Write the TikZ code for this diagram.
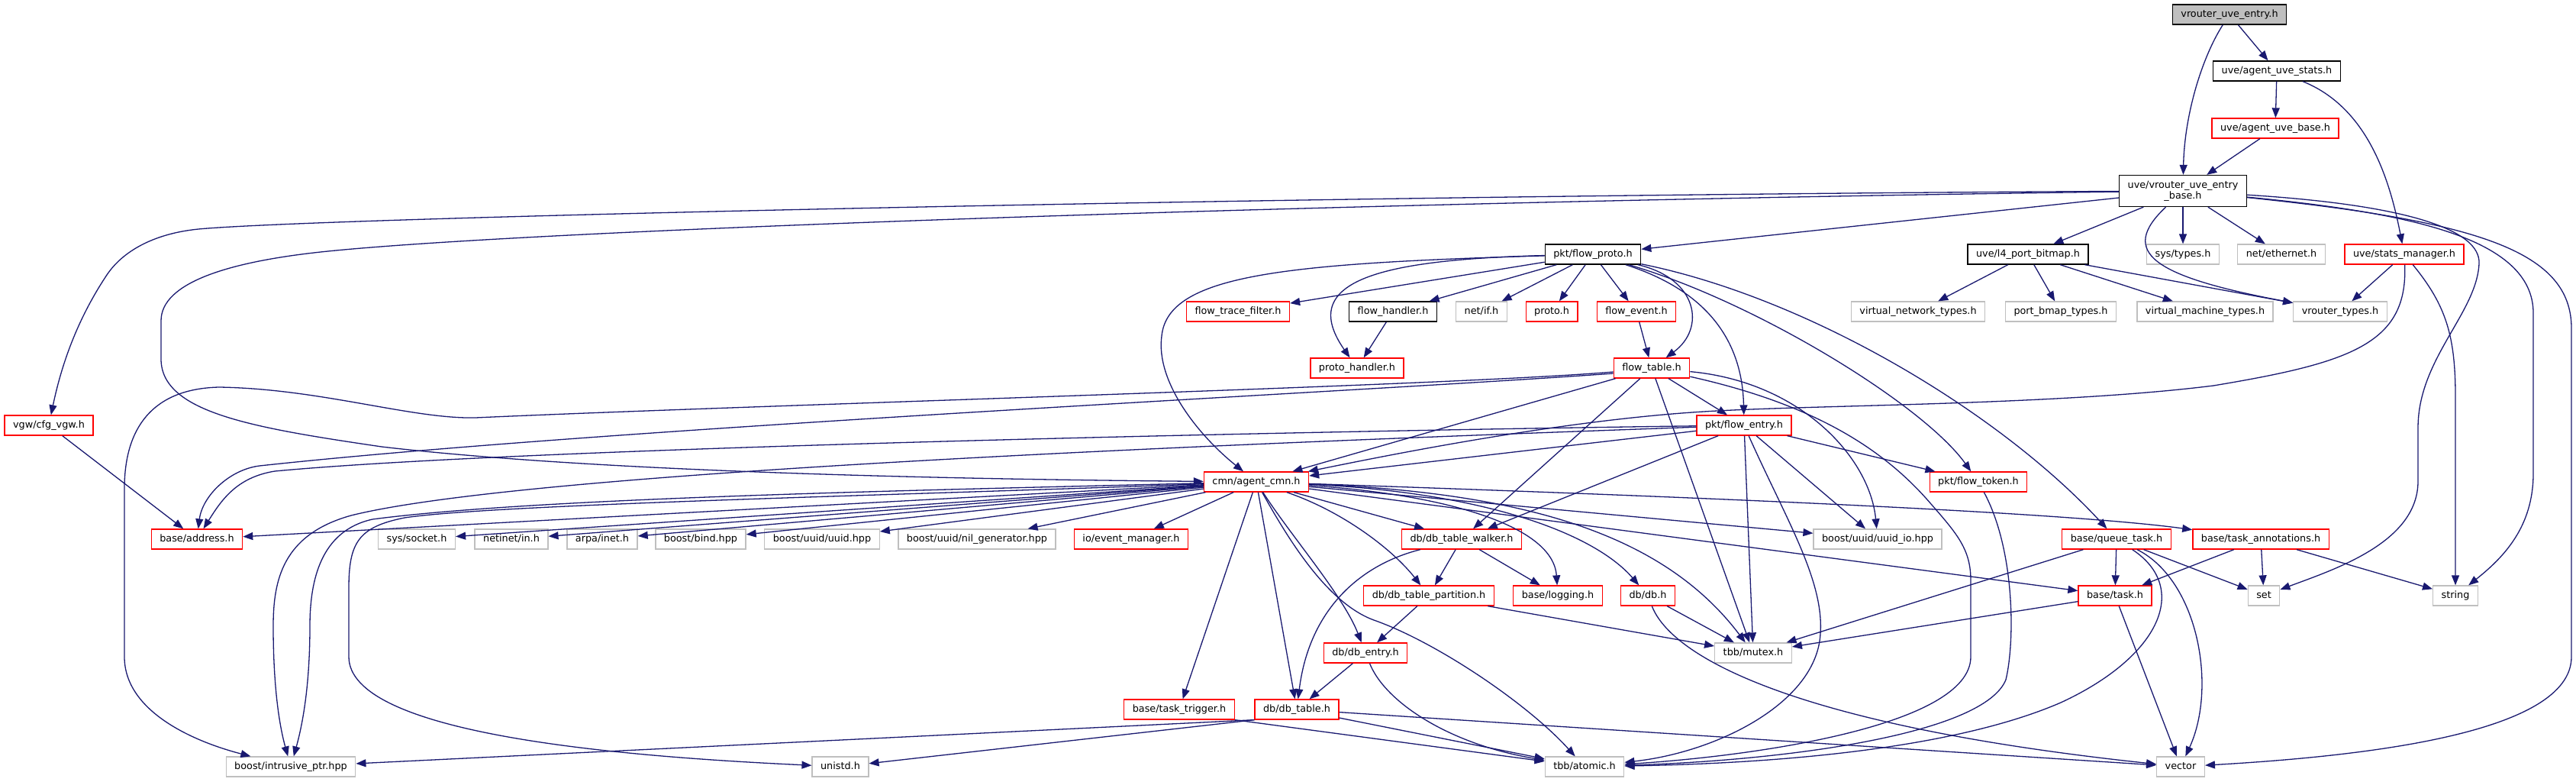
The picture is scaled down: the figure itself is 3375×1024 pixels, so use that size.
\documentclass[tikz,border=0pt]{standalone}
\usepackage{fontspec}
\setmainfont{DejaVu Sans}
\usetikzlibrary{arrows.meta}
\definecolor{edgec}{HTML}{191970}
\definecolor{grayb}{HTML}{BFBFBF}
\tikzset{
 base/.style={rectangle, draw, line width=1.3pt, inner xsep=11pt, inner ysep=0pt, font=\fontsize{12.8pt}{14pt}\selectfont, minimum height=26pt},
 tl/.style={text height=9.6pt, text depth=2.6pt},
 nblack/.style={base, tl, draw=black},
 ntop/.style={base, tl, draw=black, fill=grayb},
 nred/.style={base, tl, draw=red},
 ngray/.style={base, tl, draw=grayb},
 ed/.style={draw=edgec, line width=1.3pt, -{Triangle[length=13pt, width=10pt]}}
}
\begin{document}
\begin{tikzpicture}[x=1pt,y=-1pt]
\path[fill=white] (0,0) rectangle (3375,1024);
\useasboundingbox (0,0) rectangle (3375,1024);
% nodes
\node[ntop] (E) at (2921,19) {vrouter\_uve\_entry.h};
\node[nblack] (S) at (2983,93) {uve/agent\_uve\_stats.h};
\node[nred] (AB) at (2981,168) {uve/agent\_uve\_base.h};
\node[base, draw=black, minimum height=41pt, align=center] (B) at (2860,250) {uve/vrouter\_uve\_entry\\\_base.h};
\node[nblack] (FP) at (2087,333) {pkt/flow\_proto.h};
\node[nblack] (L4) at (2657,333) {uve/l4\_port\_bitmap.h};
\node[ngray] (ST) at (2860,333) {sys/types.h};
\node[ngray] (NE) at (2989,333) {net/ethernet.h};
\node[nred] (SM) at (3150,333) {uve/stats\_manager.h};
\node[nred] (FTF) at (1622,408) {flow\_trace\_filter.h};
\node[nblack] (FH) at (1825,408) {flow\_handler.h};
\node[ngray] (NIF) at (1941,408) {net/if.h};
\node[nred] (PR) at (2033,408) {proto.h};
\node[nred] (FEV) at (2144,408) {flow\_event.h};
\node[ngray] (VNT) at (2513,408) {virtual\_network\_types.h};
\node[ngray] (PBT) at (2700,408) {port\_bmap\_types.h};
\node[ngray] (VMT) at (2889,408) {virtual\_machine\_types.h};
\node[ngray] (VT) at (3066,408) {vrouter\_types.h};
\node[nred] (PH) at (1778,482) {proto\_handler.h};
\node[nred] (FT) at (2164,482) {flow\_table.h};
\node[nred] (VGW) at (64,557) {vgw/cfg\_vgw.h};
\node[nred] (FE) at (2285,557) {pkt/flow\_entry.h};
\node[nred] (C) at (1646,631) {cmn/agent\_cmn.h};
\node[nred] (FTK) at (2592,631) {pkt/flow\_token.h};
\node[nred] (ADDR) at (258,706) {base/address.h};
\node[ngray] (SOCK) at (546,706) {sys/socket.h};
\node[ngray] (NIN) at (670,706) {netinet/in.h};
\node[ngray] (ARPA) at (789,706) {arpa/inet.h};
\node[ngray] (BIND) at (918,706) {boost/bind.hpp};
\node[ngray] (UUID) at (1077,706) {boost/uuid/uuid.hpp};
\node[ngray] (NIL) at (1280,706) {boost/uuid/nil\_generator.hpp};
\node[nred] (EVM) at (1482,706) {io/event\_manager.h};
\node[nred] (DTW) at (1915,706) {db/db\_table\_walker.h};
\node[ngray] (UIO) at (2460,706) {boost/uuid/uuid\_io.hpp};
\node[nred] (QT) at (2773,706) {base/queue\_task.h};
\node[nred] (TA) at (2962,706) {base/task\_annotations.h};
\node[nred] (DTP) at (1872,780) {db/db\_table\_partition.h};
\node[nred] (LOG) at (2041,780) {base/logging.h};
\node[nred] (DB) at (2159,780) {db/db.h};
\node[nred] (TASK) at (2771,780) {base/task.h};
\node[ngray] (SET) at (2966,780) {set};
\node[ngray] (STR) at (3217,780) {string};
\node[nred] (DE) at (1789,855) {db/db\_entry.h};
\node[ngray] (MTX) at (2297,855) {tbb/mutex.h};
\node[nred] (TT) at (1545,929) {base/task\_trigger.h};
\node[nred] (DT) at (1699,929) {db/db\_table.h};
\node[ngray] (IP) at (381,1004) {boost/intrusive\_ptr.hpp};
\node[ngray] (UNI) at (1101,1004) {unistd.h};
\node[ngray] (AT) at (2076,1004) {tbb/atomic.h};
\node[ngray] (VEC) at (2857,1004) {vector};
% top
\draw[ed] (E) .. controls (2885,75) and (2862,150) .. (B);
\draw[ed] (E) -- (S);
\draw[ed] (S) -- (AB);
\draw[ed] (S) .. controls (3100,140) and (3130,230) .. (SM);
\draw[ed] (AB) -- (B);
% vrouter_uve_entry_base
\draw[ed] (B) .. controls (1700,256) and (420,285) .. (260,300) .. controls (200,306) and (160,330) .. (140,360) .. controls (100,420) and (80,480) .. (VGW);
\draw[ed] (B) .. controls (1800,264) and (700,300) .. (420,330) .. controls (300,343) and (211,370) .. (211,420) -- (211,470) .. controls (211,540) and (330,560) .. (500,585) .. controls (800,620) and (1300,628) .. (C);
\draw[ed] (B) -- (FP);
\draw[ed] (B) -- (L4);
\draw[ed] (B) -- (ST);
\draw[ed] (B) -- (NE);
\draw[ed] (B) .. controls (2775,330) and (2820,362) .. (VT);
\draw[ed] (B) .. controls (3150,268) and (3250,300) .. (3248,345) .. controls (3245,410) and (3168,470) .. (3168,560) -- (3168,630) .. controls (3168,710) and (3060,745) .. (SET);
\draw[ed] (B) .. controls (3150,278) and (3319,310) .. (3319,410) -- (3319,620) .. controls (3319,690) and (3280,730) .. (STR);
\draw[ed] (B) .. controls (3250,290) and (3369,330) .. (3369,430) -- (3369,860) .. controls (3369,960) and (3100,990) .. (VEC);
% l4 port bitmap
\draw[ed] (L4) -- (VNT);
\draw[ed] (L4) -- (PBT);
\draw[ed] (L4) -- (VMT);
\draw[ed] (L4) -- (VT);
% stats manager
\draw[ed] (SM) -- (VT);
\draw[ed] (SM) .. controls (3205,400) and (3217,440) .. (3217,520) -- (STR);
\draw[ed] (SM) .. controls (3155,450) and (3080,475) .. (2900,505) .. controls (2700,530) and (2400,530) .. (2250,538) .. controls (2050,548) and (1800,600) .. (C);
% flow_proto
\draw[ed] (FP) .. controls (1680,345) and (1530,360) .. (1522,440) .. controls (1514,500) and (1570,570) .. (C);
\draw[ed] (FP) -- (FTF);
\draw[ed] (FP) .. controls (1800,340) and (1700,370) .. (PH);
\draw[ed] (FP) -- (FH);
\draw[ed] (FP) -- (NIF);
\draw[ed] (FP) -- (PR);
\draw[ed] (FP) -- (FEV);
\draw[ed] (FP) .. controls (2225,365) and (2235,430) .. (FT);
\draw[ed] (FP) .. controls (2250,385) and (2283,460) .. (FE);
\draw[ed] (FP) .. controls (2300,395) and (2520,530) .. (FTK);
\draw[ed] (FP) .. controls (2370,390) and (2620,540) .. (QT);
\draw[ed] (FH) -- (PH);
\draw[ed] (FEV) -- (FT);
% flow_table
\draw[ed] (FT) -- (C);
\draw[ed] (FT) -- (DTW);
\draw[ed] (FT) -- (MTX);
\draw[ed] (FT) -- (FE);
\draw[ed] (FT) .. controls (2360,500) and (2450,600) .. (UIO);
\draw[ed] (FT) .. controls (2380,530) and (2470,590) .. (2530,660) .. controls (2565,700) and (2582,720) .. (2582,760) -- (2582,860) .. controls (2582,950) and (2300,990) .. (AT);
\draw[ed] ([yshift=-7pt]FT.west) .. controls (1800,512) and (800,560) .. (340,610) .. controls (300,615) and (265,650) .. (ADDR);
\draw[ed] ([yshift=-5pt]FT.west) .. controls (1900,505) and (1000,530) .. (623,547) .. controls (540,549) and (420,509) .. (287,507) .. controls (200,509) and (163,560) .. (163,640) -- (163,860) .. controls (163,930) and (250,970) .. (IP);
% flow_entry
\draw[ed] (FE) -- (C);
\draw[ed] (FE) .. controls (1800,563) and (700,585) .. (360,617) .. controls (310,625) and (290,655) .. (ADDR);
\draw[ed] (FE) .. controls (1700,578) and (700,615) .. (460,675) .. controls (370,700) and (358,760) .. (358,820) .. controls (358,900) and (366,950) .. (IP);
\draw[ed] (FE) -- (DTW);
\draw[ed] (FE) -- (MTX);
\draw[ed] (FE) -- (UIO);
\draw[ed] (FE) -- (FTK);
\draw[ed] (FE) .. controls (2340,680) and (2390,760) .. (2385,830) .. controls (2380,920) and (2250,985) .. (AT);
% agent_cmn
\draw[ed] (C) -- (ADDR);
\draw[ed] (C) -- (SOCK);
\draw[ed] (C) -- (NIN);
\draw[ed] (C) -- (ARPA);
\draw[ed] (C) -- (BIND);
\draw[ed] (C) -- (UUID);
\draw[ed] (C) -- (NIL);
\draw[ed] (C) -- (EVM);
\draw[ed] (C) .. controls (1200,642) and (700,652) .. (488,680) .. controls (420,695) and (406,760) .. (406,820) .. controls (406,900) and (396,950) .. (IP);
\draw[ed] (C) .. controls (1200,648) and (650,660) .. (530,678) .. controls (470,690) and (457,710) .. (457,770) -- (457,860) .. controls (457,960) and (800,990) .. (UNI);
\draw[ed] (C) -- (DTW);
\draw[ed] (C) .. controls (1760,670) and (1825,720) .. (DTP);
\draw[ed] (C) .. controls (1690,700) and (1760,780) .. (DE);
\draw[ed] (C) .. controls (1690,710) and (1740,790) .. (1800,812) .. controls (1880,840) and (2000,920) .. (AT);
\draw[ed] (C) -- (DT);
\draw[ed] (C) -- (TT);
\draw[ed] (C) .. controls (1900,648) and (2035,690) .. (LOG);
\draw[ed] (C) .. controls (1950,645) and (2090,700) .. (DB);
\draw[ed] (C) .. controls (2000,645) and (2180,700) .. (MTX);
\draw[ed] (C) -- (UIO);
\draw[ed] (C) .. controls (2200,650) and (2700,670) .. (TA);
\draw[ed] (C) -- (TASK);
% db
\draw[ed] (DTW) -- (DTP);
\draw[ed] (DTW) -- (LOG);
\draw[ed] (DTW) .. controls (1780,740) and (1715,800) .. (DT);
\draw[ed] (DTP) -- (DE);
\draw[ed] (DTP) -- (MTX);
\draw[ed] (DB) -- (MTX);
\draw[ed] (DB) .. controls (2190,860) and (2350,950) .. (VEC);
\draw[ed] (DE) -- (DT);
\draw[ed] (DE) .. controls (1815,920) and (1900,975) .. (AT);
\draw[ed] (DT) -- (AT);
\draw[ed] (DT) -- (VEC);
\draw[ed] (DT.south west) -- (IP);
\draw[ed] (DT.south west) -- (UNI);
\draw[ed] (TT.south east) -- (AT);
% tokens, tasks
\draw[ed] (FTK) .. controls (2640,720) and (2640,840) .. (2628,890) .. controls (2600,960) and (2350,995) .. (AT);
\draw[ed] (QT) -- (TASK);
\draw[ed] (QT) -- (SET);
\draw[ed] (QT) -- (MTX);
\draw[ed] (QT) .. controls (2880,760) and (2905,900) .. (VEC);
\draw[ed] (QT) .. controls (2870,770) and (2830,860) .. (2700,920) .. controls (2550,985) and (2300,1000) .. (AT);
\draw[ed] (TA) -- (TASK);
\draw[ed] (TA) -- (SET);
\draw[ed] (TA) -- (STR);
\draw[ed] (TASK) -- (VEC);
\draw[ed] (TASK) -- (MTX);
\draw[ed] (VGW) -- (ADDR);
\end{tikzpicture}
\end{document}
